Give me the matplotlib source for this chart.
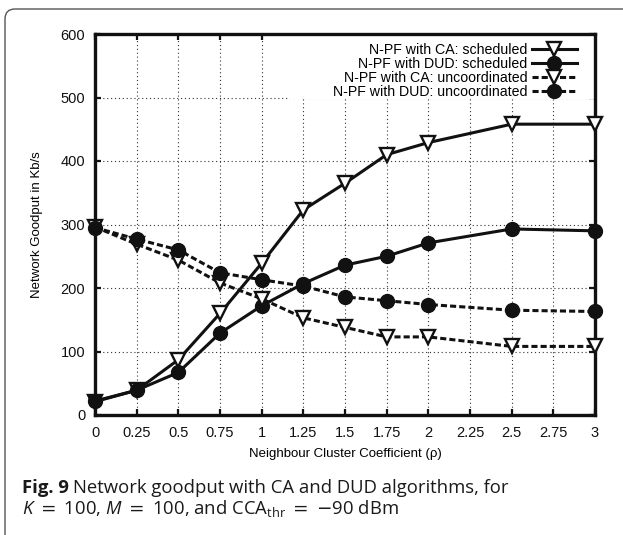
import numpy as np
import matplotlib
matplotlib.use("Agg")
import matplotlib.pyplot as plt
from matplotlib.patches import FancyBboxPatch, Rectangle

plt.rcParams['font.family'] = ['Liberation Sans', 'DejaVu Sans']
plt.rcParams['mathtext.fontset'] = 'custom'
plt.rcParams['mathtext.rm'] = 'Open Sans'
plt.rcParams['mathtext.it'] = 'Open Sans:italic'
plt.rcParams['mathtext.sf'] = 'DejaVu Sans'

# neighbour cluster coefficient (rho)
rho = [0, 0.25, 0.5, 0.75, 1, 1.25, 1.5, 1.75, 2, 2.5, 3]

# network goodput in Kb/s
ca_sched = [21, 39, 87, 160, 239, 323, 365, 410, 429, 458, 458]
dud_sched = [22, 39, 67, 129, 172, 207, 236, 250, 271, 293, 290]
ca_uncoord = [296, 269, 244, 208, 183, 153, 138, 123, 123, 108, 108]
dud_uncoord = [295, 277, 260, 224, 213, 203, 186, 180, 174, 165, 163]

labels = ["N-PF with CA: scheduled", "N-PF with DUD: scheduled",
          "N-PF with CA: uncoordinated", "N-PF with DUD: uncoordinated"]

xticks = [0, 0.25, 0.5, 0.75, 1, 1.25, 1.5, 1.75, 2, 2.25, 2.5, 2.75, 3]
xticklabels = ["0", "0.25", "0.5", "0.75", "1", "1.25", "1.5", "1.75", "2",
               "2.25", "2.5", "2.75", "3"]
yticks = [0, 100, 200, 300, 400, 500, 600]

fig = plt.figure(figsize=(6.23, 5.35), dpi=100)
fig.patch.set_facecolor("white")

# rounded panel border, open at the right and bottom
panel = FancyBboxPatch((0.05, -0.3), 7.0, 5.56, boxstyle="round,pad=0,rounding_size=0.1",
                       transform=fig.dpi_scale_trans, facecolor="none",
                       edgecolor="#555555", linewidth=1.0)
fig.patches.append(panel)

ax = fig.add_axes([95 / 623, 1 - 415 / 535, 500 / 623, 381 / 535])

lw = 2.2
dash = (0, (2, 1))
style = dict(color="#111111", lw=lw, mec="#111111", clip_on=False, zorder=3)
ax.plot(rho, ca_sched, marker="v", ms=10.5, mfc="white", mew=1.7,
        label=labels[0], **style)
ax.plot(rho, dud_sched, marker="o", ms=10, mfc="#111111",
        label=labels[1], **style)
ax.plot(rho, ca_uncoord, ls=dash, marker="v", ms=10.5, mfc="white", mew=1.7,
        label=labels[2], **style)
ax.plot(rho, dud_uncoord, ls=dash, marker="o", ms=10, mfc="#111111",
        label=labels[3], **style)

ax.set_xlim(0, 3)
ax.set_ylim(0, 600)
ax.set_xticks(xticks)
ax.set_xticklabels(xticklabels)
ax.set_yticks(yticks)
ax.tick_params(direction="in", length=4, width=1.6, labelsize=10.5, pad=7,
               top=True, right=True, colors="#111111")
ax.tick_params(axis="x", pad=8)
for sp in ax.spines.values():
    sp.set_linewidth(2.4)
    sp.set_color("#111111")
ax.grid(True, color="#333333", linestyle=(0, (1, 2.5)), linewidth=0.8)
ax.set_axisbelow(True)

# key area blanks out the grid behind it
ax.add_patch(Rectangle((0.39, 0.83), 0.61, 0.17, transform=ax.transAxes,
                       facecolor="white", edgecolor="none", zorder=1))

leg = ax.legend(loc="upper right", bbox_to_anchor=(1 - 18 / 500, 1 - 9 / 381),
                markerfirst=False, frameon=False,
                fontsize=10.2, handlelength=3.2, labelspacing=0.0,
                handletextpad=0.3, borderaxespad=0, borderpad=0)
for t in leg.get_texts():
    t.set_ha("right")

ax.set_xlabel("Neighbour Cluster Coefficient (ρ)", fontsize=9.5, labelpad=6)
ax.set_ylabel("Network Goodput in Kb/s", fontsize=9.5, labelpad=13)

# caption
fig.canvas.draw()
r = fig.canvas.get_renderer()
cap_font = ['Open Sans', 'DejaVu Sans']
cap_size = 13.3
t1 = fig.text(22 / 623, 1 - 493 / 535, "Fig. 9", fontsize=cap_size, fontweight="bold",
              family=cap_font, va="baseline", color="#1a1a1a")
bb = t1.get_window_extent(renderer=r)
fig.text(bb.x1 / fig.bbox.width + 4 / 623, 1 - 493 / 535,
         "Network goodput with CA and DUD algorithms, for",
         fontsize=cap_size, family=cap_font, va="baseline", color="#1a1a1a")
fig.text(22 / 623, 1 - 514 / 535,
         r"$K$ $\mathsf{=}$ 100, $M$ $\mathsf{=}$ 100, and CCA$_{\mathrm{thr}}$ "
         r"$\mathsf{=}$ $\mathsf{-}$90 dBm",
         fontsize=cap_size, family=cap_font, va="baseline", color="#1a1a1a")

fig.savefig("out.png", dpi=100)
